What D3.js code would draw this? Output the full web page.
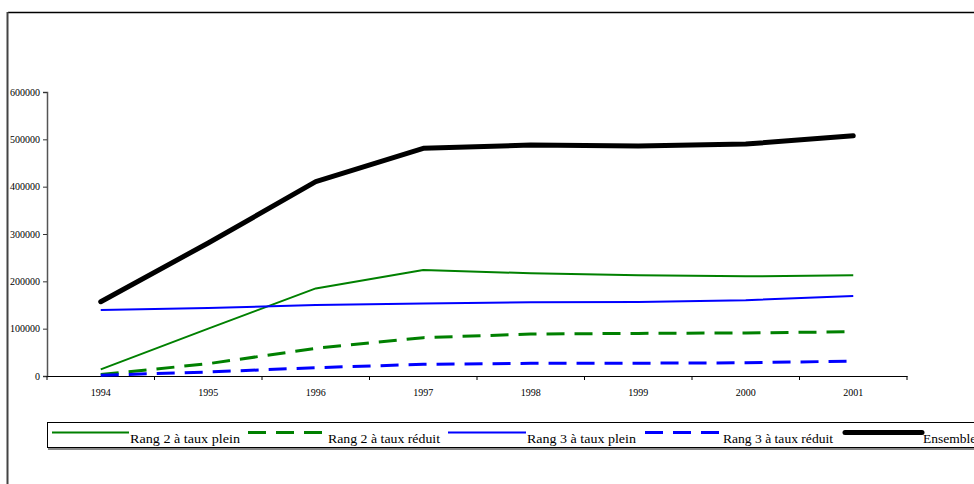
<!DOCTYPE html>
<html>
<head>
<meta charset="utf-8">
<script src="https://cdn.jsdelivr.net/npm/d3@7"></script>
<style>
  html, body { margin: 0; padding: 0; background: #fff; }
  svg { display: block; }
  svg text { font-family: "Liberation Serif", "Times New Roman", Times, serif; }
</style>
</head>
<body>
<svg id="chart" width="974" height="484"></svg>
<script>
const years = ["1994", "1995", "1996", "1997", "1998", "1999", "2000", "2001"];
const yTicks = [0, 100000, 200000, 300000, 400000, 500000, 600000];

const rang2Plein   = [14000, 100000, 185000, 224000, 217000, 213000, 210500, 213000];
const rang2Reduit  = [3000, 26000, 58500, 81000, 88700, 90000, 91000, 93500];
const rang3Plein   = [139500, 143500, 150000, 153000, 155700, 156500, 160000, 169000];
const rang3Reduit  = [1500, 8500, 17500, 24700, 26800, 27000, 28000, 31500];
const ensemble     = [157000, 281000, 410500, 481000, 488000, 486000, 490000, 507500];

const seriesNames = ["Rang 2 à taux plein", "Rang 2 à taux réduit", "Rang 3 à taux plein", "Rang 3 à taux réduit", "Ensemble"];

const series = [
  { name: seriesNames[0], values: rang2Plein,  color: "#008000", width: 2,   dash: null },
  { name: seriesNames[1], values: rang2Reduit, color: "#008000", width: 3,   dash: "18,10" },
  { name: seriesNames[2], values: rang3Plein,  color: "#0000ff", width: 2,   dash: null },
  { name: seriesNames[3], values: rang3Reduit, color: "#0000ff", width: 3,   dash: "18,10" },
  { name: seriesNames[4], values: ensemble,    color: "#000000", width: 5,   dash: null }
];

const svg = d3.select("#chart");
const serif = "\"Liberation Serif\", \"Times New Roman\", Times, serif";

// outer frame (partially visible)
svg.append("line").attr("x1", 8).attr("x2", 974).attr("y1", 12.5).attr("y2", 12.5)
  .attr("stroke", "#000").attr("stroke-width", 1.3);
svg.append("line").attr("x1", 7.5).attr("x2", 7.5).attr("y1", 12).attr("y2", 484)
  .attr("stroke", "#444").attr("stroke-width", 2);

const mLeft = 47, mRight = 907, mTop = 92, mBottom = 376;

const x = d3.scaleBand().domain(years).range([mLeft, mRight]).padding(0);
const y = d3.scaleLinear().domain([0, 600000]).range([mBottom, mTop]);
const cx = d => x(d) + x.bandwidth() / 2;

// Y axis
const yAxis = svg.append("g").attr("transform", `translate(${mLeft},0)`)
  .call(d3.axisLeft(y).tickValues(yTicks).tickFormat(d3.format("d")).tickSize(4).tickPadding(3));
yAxis.attr("font-family", null);
yAxis.select(".domain").attr("stroke", "#555").attr("stroke-width", 1.5);
yAxis.selectAll(".tick line").attr("stroke", "#333");
yAxis.selectAll("text").style("font-family", serif)
  .style("font-size", "10px").attr("fill", "#000");

// X axis
const xAxis = svg.append("g").attr("transform", `translate(0,${mBottom})`)
  .call(d3.axisBottom(x).tickSize(0).tickPadding(13));
xAxis.attr("font-family", null);
xAxis.select(".domain").attr("stroke", "#000").attr("stroke-width", 1.2);
xAxis.selectAll("text").style("font-family", serif)
  .style("font-size", "10px").attr("fill", "#000");
const boundaries = years.map(d => x(d)).concat([x.range()[1]]);
xAxis.selectAll("line.bound").data(boundaries).enter().append("line")
  .attr("class", "bound")
  .attr("x1", d => d).attr("x2", d => d).attr("y1", 0).attr("y2", 4)
  .attr("stroke", "#000").attr("stroke-width", 1);

// Lines
const line = d3.line().x((d, i) => cx(years[i])).y(d => y(d));
svg.append("g").selectAll("path").data(series).enter().append("path")
  .attr("d", d => line(d.values))
  .attr("fill", "none")
  .attr("stroke", d => d.color)
  .attr("stroke-width", d => d.width)
  .attr("stroke-dasharray", d => d.dash)
  .attr("stroke-linecap", d => d.width >= 5 ? "round" : "butt")
  .attr("stroke-linejoin", "round");

// Legend
const legend = svg.append("g");
legend.append("rect").attr("x", 48).attr("y", 424).attr("width", 960).attr("height", 26)
  .attr("fill", "#888");
legend.append("rect").attr("x", 47.5).attr("y", 422.5).attr("width", 960).attr("height", 25)
  .attr("fill", "#fff").attr("stroke", "#000").attr("stroke-width", 1);

const legendX = [52, 248, 448, 645, 845];
const legendLineW = [77, 74, 78, 74, 77];
const legendTextX = [130, 328, 527, 723, 923];
const legendTextW = [110, 112, 109, 110, null];
const items = legend.selectAll("g.item").data(series).enter().append("g").attr("class", "item");
items.append("line")
  .attr("x1", (d, i) => legendX[i]).attr("x2", (d, i) => legendX[i] + legendLineW[i])
  .attr("y1", 432.5).attr("y2", 432.5)
  .attr("stroke", d => d.color)
  .attr("stroke-width", d => d.width)
  .attr("stroke-dasharray", d => d.dash)
  .attr("stroke-linecap", d => d.width >= 5 ? "round" : "butt");
items.append("text")
  .attr("x", (d, i) => legendTextX[i])
  .attr("y", 442.5)
  .style("font-family", serif)
  .style("font-size", "13.5px")
  .attr("fill", "#000")
  .each(function (d, i) {
    if (legendTextW[i]) {
      d3.select(this).attr("textLength", legendTextW[i]).attr("lengthAdjust", "spacingAndGlyphs");
    }
  })
  .text(d => d.name);
</script>
</body>
</html>
